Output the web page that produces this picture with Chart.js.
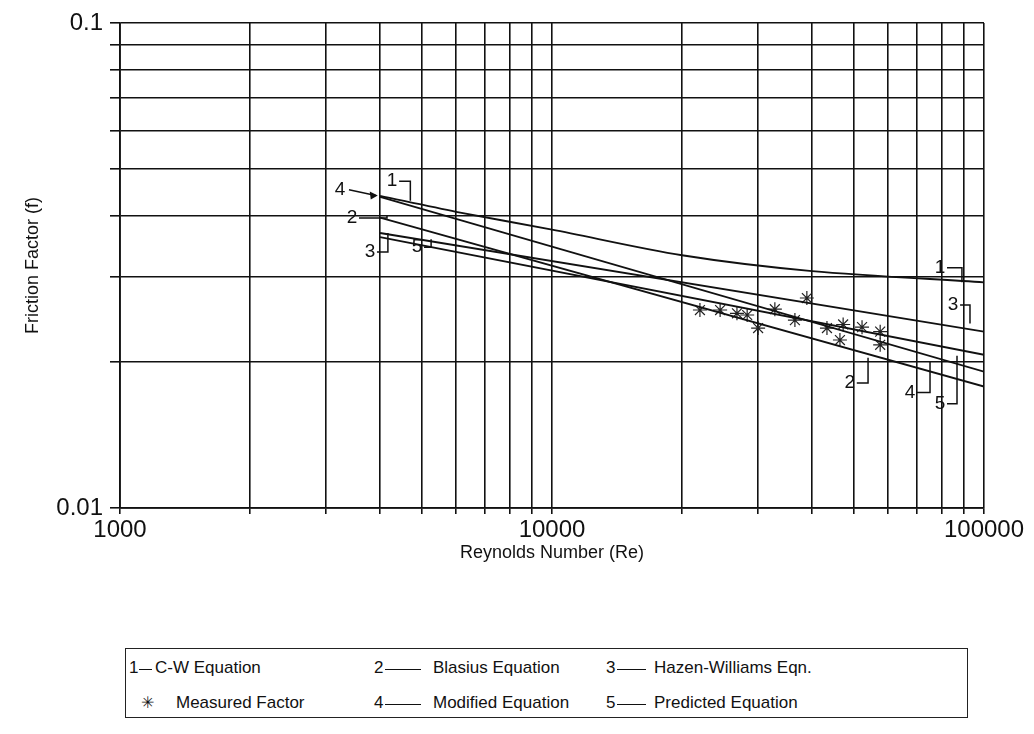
<!DOCTYPE html>
<html>
<head>
<meta charset="utf-8">
<script src="https://cdn.jsdelivr.net/npm/chart.js@4.4.1/dist/chart.umd.min.js"></script>
<style>
  html, body { margin: 0; padding: 0; background: #fff; }
  #wrap { position: relative; width: 1034px; height: 734px; font-family: "Liberation Sans", Arial, sans-serif; color: #111; }
  #chartBox { position: absolute; left: 0; top: 0; width: 1034px; height: 590px; }
  #legend { position: absolute; left: 125px; top: 648px; width: 843px; height: 70px; border: 1.5px solid #222; box-sizing: border-box; }
  #legend span { position: absolute; font-size: 17px; line-height: 20px; white-space: nowrap; }
  #legend i { position: absolute; height: 0; border-top: 1.5px solid #111; }
  #legend .star { font-family: "DejaVu Sans", sans-serif; color: #111; font-size: 16px; }
</style>
</head>
<body>
<div id="wrap">
  <div id="chartBox"><canvas id="frictionChart"></canvas></div>
  <div id="legend">
    <span style="left:3px;top:9px">1</span><i style="left:13px;top:20px;width:13px"></i><span style="left:29px;top:9px">C-W Equation</span>
    <span style="left:248px;top:9px">2</span><i style="left:259px;top:20px;width:36px"></i><span style="left:307px;top:9px">Blasius Equation</span>
    <span style="left:480px;top:9px">3</span><i style="left:491px;top:20px;width:29px"></i><span style="left:528px;top:9px">Hazen-Williams Eqn.</span>
    <span class="star" style="left:15px;top:44px">&#x2733;&#xFE0E;</span><span style="left:50px;top:44px">Measured Factor</span>
    <span style="left:248px;top:44px">4</span><i style="left:259px;top:55px;width:36px"></i><span style="left:307px;top:44px">Modified Equation</span>
    <span style="left:480px;top:44px">5</span><i style="left:491px;top:55px;width:29px"></i><span style="left:528px;top:44px">Predicted Equation</span>
  </div>
</div>
<script>
// Reynolds number range of the equation lines
const lineRe = [4000, 100000];

// 1 - Colebrook-White (slightly curved, read at several points)
const cwRe = [4000, 6000, 10000, 20000, 40000, 100000];
const cwF = [0.0440, 0.0408, 0.0375, 0.0332, 0.0308, 0.0292];

// 2..5 - straight lines on log-log, end points
const blasiusF = [0.0397, 0.0178];
const hazenF = [0.0369, 0.0231];
const modifiedF = [0.0438, 0.0191];
const predictedF = [0.0362, 0.0207];

// measured friction factors
const measuredRe = [22000, 24500, 26800, 28300, 30000, 32800, 36500, 38900, 43300, 46400, 47200, 52200, 57500, 57500];
const measuredF = [0.0256, 0.0256, 0.0252, 0.0250, 0.0235, 0.0257, 0.0244, 0.0271, 0.0235, 0.0222, 0.0239, 0.0236, 0.0231, 0.0217];

// grid ticks and labelled ticks
const xTicks = [1000, 2000, 3000, 4000, 5000, 6000, 7000, 8000, 9000,
    10000, 20000, 30000, 40000, 50000, 60000, 70000, 80000, 90000, 100000];
const yTicks = [0.01, 0.02, 0.03, 0.04, 0.05, 0.06, 0.07, 0.08, 0.09, 0.1];
const xTickLabels = [1000, 10000, 100000];
const yTickLabels = [0.01, 0.1];

const toPoints = (xs, ys) => xs.map((x, i) => ({ x: x, y: ys[i] }));

// hand-written curve numbers: text at [Re, f], leader to [Re, f]
const curveNotes = [
    { text: '4', at: [3230, 0.0453], to: [3950, 0.0441], arrow: true },
    { text: '1', at: [4265, 0.0472], to: [4700, 0.0430] },
    { text: '2', at: [3444, 0.0396], to: [4150, 0.0400] },
    { text: '3', at: [3790, 0.0337], to: [4170, 0.0369] },
    { text: '5', at: [4870, 0.0345], to: [5250, 0.0358] },
    { text: '1', at: [79100, 0.0313], to: [88900, 0.0292] },
    { text: '3', at: [84800, 0.0262], to: [92800, 0.0240] },
    { text: '2', at: [48900, 0.0181], to: [53900, 0.0204] },
    { text: '4', at: [67400, 0.0173], to: [75000, 0.0201] },
    { text: '5', at: [79100, 0.0164], to: [86600, 0.0206] }
];

const notesPlugin = {
    id: 'curveNotes',
    afterDatasetsDraw(chart) {
        const { ctx, scales: { x, y } } = chart;
        ctx.save();
        ctx.strokeStyle = '#111';
        ctx.fillStyle = '#111';
        ctx.lineWidth = 1.5;
        ctx.font = '19px "Liberation Sans", Arial, sans-serif';
        ctx.textAlign = 'center';
        ctx.textBaseline = 'middle';
        curveNotes.forEach(n => {
            const tx = x.getPixelForValue(n.at[0]);
            const ty = y.getPixelForValue(n.at[1]);
            const px = x.getPixelForValue(n.to[0]);
            const py = y.getPixelForValue(n.to[1]);
            ctx.fillText(n.text, tx, ty);
            ctx.beginPath();
            if (n.arrow) {
                ctx.moveTo(tx + 9, ty);
                ctx.lineTo(px - 2, py);
                ctx.stroke();
                ctx.beginPath();
                ctx.moveTo(px, py);
                ctx.lineTo(px - 8, py - 4);
                ctx.lineTo(px - 7, py + 4);
                ctx.closePath();
                ctx.fill();
            } else {
                ctx.moveTo(tx + 7, ty);
                ctx.lineTo(px, ty);
                ctx.lineTo(px, py);
                ctx.stroke();
            }
        });
        ctx.restore();
    }
};

const near = (list, v) => list.some(t => Math.abs(t - v) < t * 1e-6);

const lineStyle = { borderColor: '#111', borderWidth: 1.8, pointRadius: 0, showLine: true, fill: false };

Chart.defaults.font.family = '"Liberation Sans", Arial, sans-serif';
Chart.defaults.color = '#111';

new Chart(document.getElementById('frictionChart'), {
    type: 'scatter',
    data: {
        datasets: [
            { label: 'C-W Equation', data: toPoints(cwRe, cwF), tension: 0.3, ...lineStyle },
            { label: 'Blasius Equation', data: toPoints(lineRe, blasiusF), ...lineStyle },
            { label: 'Hazen-Williams Eqn.', data: toPoints(lineRe, hazenF), ...lineStyle },
            { label: 'Modified Equation', data: toPoints(lineRe, modifiedF), ...lineStyle },
            { label: 'Predicted Equation', data: toPoints(lineRe, predictedF), ...lineStyle },
            {
                label: 'Measured Factor',
                data: toPoints(measuredRe, measuredF),
                pointStyle: 'star',
                pointRadius: 7,
                borderColor: '#222',
                borderWidth: 1.2,
                showLine: false
            }
        ]
    },
    options: {
        responsive: true,
        maintainAspectRatio: false,
        animation: false,
        layout: { padding: { left: 0, top: 23, right: 50, bottom: 0 } },
        plugins: { legend: { display: false }, tooltip: { enabled: false } },
        scales: {
            x: {
                type: 'logarithmic',
                min: xTicks[0],
                max: xTicks[xTicks.length - 1],
                afterBuildTicks: s => { s.ticks = xTicks.map(v => ({ value: v })); },
                afterFit: s => { s.height = 82; },
                grid: { color: '#111', lineWidth: 1.6, tickLength: 6 },
                border: { color: '#111', width: 1.8 },
                ticks: {
                    autoSkip: false,
                    maxRotation: 0,
                    padding: 2,
                    font: { size: 24 },
                    callback: v => (near(xTickLabels, v) ? String(v) : '')
                },
                title: { display: true, text: 'Reynolds Number (Re)', font: { size: 18 }, padding: { top: 0, bottom: 26 } }
            },
            y: {
                type: 'logarithmic',
                min: yTicks[0],
                max: yTicks[yTicks.length - 1],
                afterBuildTicks: s => { s.ticks = yTicks.map(v => ({ value: v })); },
                afterFit: s => { s.width = 120; },
                grid: { color: '#111', lineWidth: 1.6, tickLength: 10 },
                border: { color: '#111', width: 1.8 },
                ticks: {
                    autoSkip: false,
                    padding: 7,
                    font: { size: 24 },
                    callback: v => (near(yTickLabels, v) ? String(v) : '')
                },
                title: { display: true, text: 'Friction Factor (f)', font: { size: 18 }, padding: { top: 22, bottom: 0 } }
            }
        }
    },
    plugins: [notesPlugin]
});
</script>
</body>
</html>
